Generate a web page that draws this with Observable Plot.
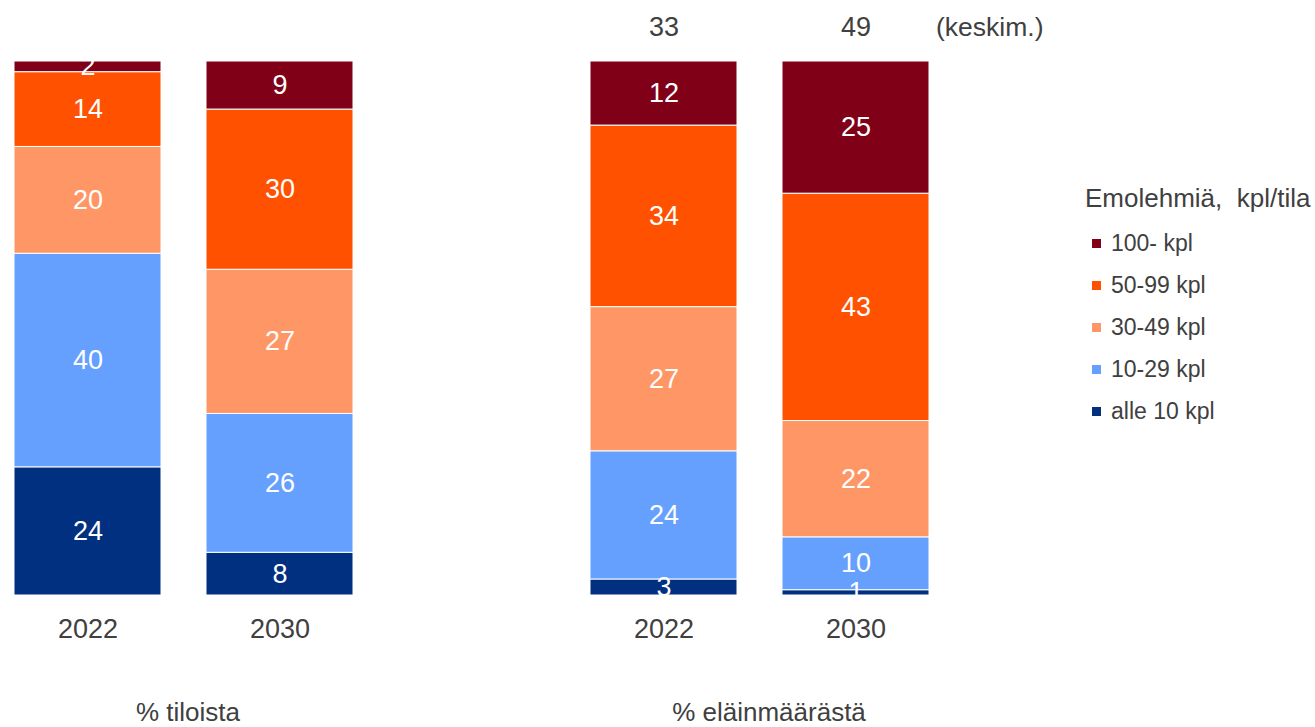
<!DOCTYPE html>
<html>
<head>
<meta charset="utf-8">
<script src="https://cdn.jsdelivr.net/npm/d3@7"></script>
<script src="https://cdn.jsdelivr.net/npm/@observablehq/plot@0.6"></script>
<style>
  html, body { margin: 0; padding: 0; background: #fff; }
  body { font-family: "Liberation Sans", Arial, sans-serif; color: #404040; }
  #wrap { position: relative; width: 1315px; height: 727px; }
  #legend { position: absolute; left: 1085px; top: 183px; }
  #legend .title { font-size: 26px; white-space: pre; height: 30px; line-height: 30px; margin-bottom: 9px; }
  #legend .item { display: flex; align-items: center; height: 42px; font-size: 23px; padding-left: 7px; }
  #legend .sw { width: 9px; height: 9px; margin-right: 10px; }
</style>
</head>
<body>
<div id="wrap"><div id="chart"></div><div id="legend"></div></div>
<script>
// ---- data ----
const categories = ["alle 10 kpl", "10-29 kpl", "30-49 kpl", "50-99 kpl", "100- kpl"]; // bottom -> top
const colors = ["#00307f", "#65a0fe", "#ff9665", "#ff5100", "#800018"];
const years = ["2022", "2030"];
const tiloista2022 = [24, 40, 20, 14, 2];
const tiloista2030 = [8, 26, 27, 30, 9];
const elaimet2022 = [3, 24, 27, 34, 12];
const elaimet2030 = [1, 10, 22, 43, 25];
const averages = [33, 49];
const averageLabel = "(keskim.)";
const groupLabels = ["% tiloista", "% eläinmäärästä"];
const legendTitle = "Emolehmiä,  kpl/tila";

// ---- build table ----
const barKeys = ["t2022", "t2030", "gap", "e2022", "e2030"];
const keyYear = {t2022: years[0], t2030: years[1], gap: "", e2022: years[0], e2030: years[1]};
const series = [["t2022", tiloista2022], ["t2030", tiloista2030], ["e2022", elaimet2022], ["e2030", elaimet2030]];
const rows = [];
for (const [key, vals] of series) {
  vals.forEach((v, i) => rows.push({bar: key, category: categories[i], value: v}));
}

const plot = Plot.plot({
  width: 1315,
  height: 727,
  marginLeft: 12,
  marginRight: 383,
  marginTop: 61,
  marginBottom: 132,
  style: {fontFamily: "'Liberation Sans', Arial, sans-serif", fontSize: "27px", color: "#404040"},
  x: {domain: barKeys, paddingInner: 0.233, paddingOuter: 0, tickFormat: d => keyYear[d], tickSize: 0, tickPadding: 23, label: null},
  y: {axis: null},
  color: {domain: categories, range: colors},
  marks: [
    Plot.barY(rows, Plot.stackY({x: "bar", y: "value", z: "category", fill: "category", offset: "normalize", stroke: "white", strokeWidth: 1})),
    Plot.text(rows, Plot.stackY({x: "bar", y: "value", z: "category", text: d => String(d.value), offset: "normalize", fill: "white", fontSize: 27})),
    Plot.text(averages, {x: ["e2022", "e2030"], text: d => String(d), frameAnchor: "top", lineAnchor: "middle", dy: -34, fontSize: 27, fill: "#404040"}),
    Plot.text([averageLabel], {x: ["e2030"], text: d => d, frameAnchor: "top", lineAnchor: "middle", dy: -34, dx: 80, textAnchor: "start", fontSize: 26.5, fill: "#404040"}),
    Plot.text([groupLabels[0]], {x: ["t2022"], text: d => d, frameAnchor: "bottom", lineAnchor: "middle", dy: 117, dx: 100, fontSize: 26, fill: "#404040"}),
    Plot.text([groupLabels[1]], {x: ["e2022"], text: d => d, frameAnchor: "bottom", lineAnchor: "middle", dy: 117, dx: 105, fontSize: 26, fill: "#404040"})
  ]
});
document.getElementById("chart").appendChild(plot);

// ---- legend ----
const legend = document.getElementById("legend");
const t = document.createElement("div");
t.className = "title";
t.textContent = legendTitle;
legend.appendChild(t);
for (let i = categories.length - 1; i >= 0; i--) {
  const it = document.createElement("div");
  it.className = "item";
  const sw = document.createElement("span");
  sw.className = "sw";
  sw.style.background = colors[i];
  const lb = document.createElement("span");
  lb.textContent = categories[i];
  it.appendChild(sw);
  it.appendChild(lb);
  legend.appendChild(it);
}
</script>
</body>
</html>
